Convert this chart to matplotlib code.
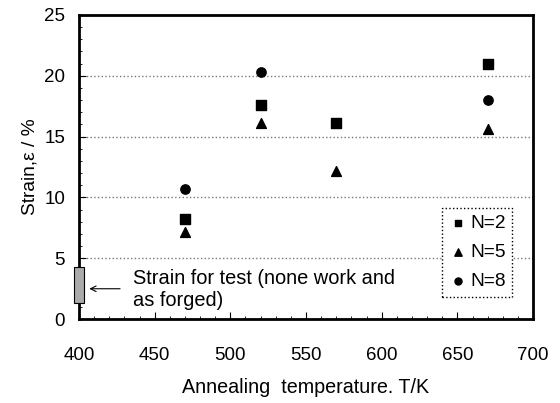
import matplotlib.pyplot as plt
from matplotlib.patches import Rectangle
from matplotlib.ticker import MultipleLocator

plt.rcParams['font.family'] = ['Liberation Sans', 'DejaVu Sans']

# temperaturas e deformacoes
temp_n2 = [470, 520, 570, 670]
strain_n2 = [8.2, 17.6, 16.1, 21.0]
temp_n5 = [470, 520, 570, 670]
strain_n5 = [7.2, 16.1, 12.2, 15.6]
temp_n8 = [470, 520, 670]
strain_n8 = [10.7, 20.3, 18.0]

fig = plt.figure(figsize=(5.6, 4.03), dpi=100)
ax = fig.add_axes([0.141, 0.208, 0.811, 0.755])

ax.scatter(temp_n2, strain_n2, marker='s', s=45, color='black', label='N=2', zorder=3)
ax.scatter(temp_n5, strain_n5, marker='^', s=50, color='black', label='N=5', zorder=3)
ax.scatter(temp_n8, strain_n8, marker='o', s=45, color='black', label='N=8', zorder=3)

ax.set_xlim(400, 700)
ax.set_ylim(0, 25)
ax.xaxis.set_major_locator(MultipleLocator(50))
ax.xaxis.set_minor_locator(MultipleLocator(10))
ax.yaxis.set_major_locator(MultipleLocator(5))
ax.yaxis.set_minor_locator(MultipleLocator(1))
ax.tick_params(which='both', direction='in', labelsize=13.5)
ax.tick_params(which='major', length=5)
ax.tick_params(axis='x', which='major', pad=20)
ax.tick_params(axis='y', which='major', pad=10)
ax.tick_params(which='minor', length=2.5)
ax.grid(axis='y', which='major', linestyle=':', color='#777777', linewidth=1)
for s in ax.spines.values():
    s.set_linewidth(2)

# faixa de deformacao do ensaio
ax.add_patch(Rectangle((397, 1.3), 6, 3.0, facecolor='#aaaaaa', edgecolor='black',
                       linewidth=0.8, clip_on=False, zorder=4))
ax.annotate('', xy=(405, 2.5), xytext=(429, 2.5),
            arrowprops=dict(arrowstyle='->', color='black', lw=0.8))
ax.text(436, 2.45, 'Strain for test (none work and\nas forged)', fontsize=14.4,
        va='center', ha='left', linespacing=1.2)

ax.set_xlabel('Annealing  temperature. T/K', fontsize=14.2, labelpad=10)
ax.set_ylabel('Strain,ε / %', fontsize=13.8, labelpad=4)

leg = ax.legend(loc='upper left', bbox_to_anchor=(0.80, 0.365), borderaxespad=0,
                fontsize=13.8, markerscale=0.75, handletextpad=0.2, borderpad=0.35,
                labelspacing=0.6, handlelength=0.9, fancybox=False, framealpha=1)
leg.get_frame().set_edgecolor('black')
leg.get_frame().set_linestyle(':')

fig.savefig('out.png', dpi=100)
